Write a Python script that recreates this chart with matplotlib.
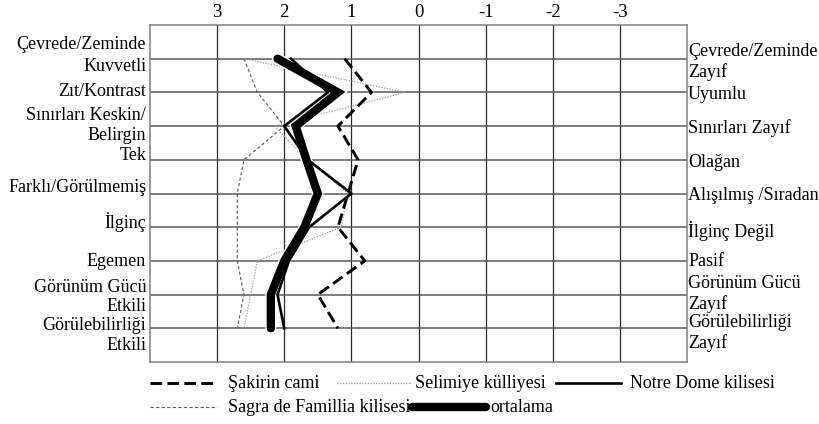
import matplotlib
matplotlib.use("Agg")
import matplotlib.pyplot as plt
from matplotlib.lines import Line2D
import matplotlib.patheffects as pe

plt.rcParams['font.family'] = ['Liberation Serif', 'DejaVu Serif']

# Semantic differential scale (left pole = +3, right pole = -3)
scale_ticks = [3, 2, 1, 0, -1, -2, -3]
items = [1, 2, 3, 4, 5, 6, 7, 8, 9]

# Mean scores per building for each adjective pair
sakirin = [1.1, 0.7, 1.2, 0.9, 1.05, 1.2, 0.8, 1.5, 1.2]
selimiye = [2.6, 0.2, 2.15, 1.65, 1.05, 1.15, 2.4, 2.5, 2.6]
notre_dame = [1.9, 1.35, 2.0, 1.65, 1.0, 1.63, 1.93, 2.1, 2.0]
sagra = [2.6, 2.4, 2.0, 2.6, 2.7, 2.7, 2.7, 2.6, 2.7]
ortalama = [2.1, 1.2, 1.83, 1.67, 1.5, 1.7, 2.0, 2.2, 2.2]

series_names = ["Şakirin cami", "Selimiye külliyesi", "Notre Dome kilisesi",
                "Sagra de Famillia kilisesi", "ortalama"]

# Pole labels (left = positive adjective, right = negative adjective)
left_labels = ["Çevrede/Zeminde", "Kuvvetli", "Zıt/Kontrast", "Sınırları Keskin/",
               "Belirgin", "Tek", "Farklı/Görülmemiş", "İlginç", "Egemen",
               "Görünüm Gücü", "Etkili", "Görülebilirliği", "Etkili"]
left_label_y = [0.59, 1.22, 1.98, 2.70, 3.28, 3.87, 4.83, 5.86, 7.03,
                7.80, 8.36, 8.93, 9.52]
right_labels = ["Çevrede/Zeminde", "Zayıf", "Uyumlu", "Sınırları Zayıf", "Olağan",
                "Alışılmış /Sıradan", "İlginç Değil", "Pasif", "Görünüm Gücü",
                "Zayıf", "Görülebilirliği", "Zayıf"]
right_label_y = [0.79, 1.40, 2.05, 3.05, 4.07, 5.05, 6.12, 7.02, 7.66,
                 8.27, 8.84, 9.43]

W, H = 819, 424
fig = plt.figure(figsize=(W / 100, H / 100), dpi=100)
ax = fig.add_axes([150 / W, 62 / H, 537 / W, 337 / H])

ax.set_xlim(4, -4)
ax.set_ylim(10, 0)

# grid
for x in scale_ticks:
    ax.axvline(x, color='#2a2a2a', lw=0.9, zorder=1)
for y in items:
    ax.axhline(y, color='#5a5a5a', lw=1.1, zorder=1)
for s in ax.spines.values():
    s.set_color('#808080')
    s.set_linewidth(1.1)

ax.set_xticks(scale_ticks)
ax.set_xticklabels([str(t) for t in scale_ticks], fontsize=13.5)
ax.xaxis.tick_top()
ax.tick_params(axis='x', length=0, pad=3)
ax.set_yticks([])

# profiles
style_sakirin = dict(color='black', lw=2.1, linestyle=(0, (4, 1.8)))
style_selimiye = dict(color='#9a9a9a', lw=0.9, linestyle=(0, (1, 1.2)))
style_notre = dict(color='black', lw=1.9, linestyle='-')
style_sagra = dict(color='#5c5c5c', lw=0.8, linestyle=(0, (3, 2)))
style_ort = dict(color='black', lw=6.0, linestyle='-', solid_capstyle='round',
                 solid_joinstyle='miter')

ax.plot(sagra, items, zorder=3, **style_sagra)
ax.plot(selimiye, items, zorder=3, **style_selimiye)
ax.plot(ortalama, items, zorder=4, **style_ort,
        path_effects=[pe.Stroke(linewidth=8, foreground='white'), pe.Normal()])
ax.plot(notre_dame, items, zorder=5, **style_notre)
ax.plot(sakirin, items, zorder=5, **style_sakirin)

# pole labels
ytr = ax.get_yaxis_transform()
for lab, y in zip(left_labels, left_label_y):
    ax.text(-0.007, y, lab, transform=ytr, ha='right', va='center',
            fontsize=13, clip_on=False)
for lab, y in zip(right_labels, right_label_y):
    ax.text(1.002, y, lab, transform=ytr, ha='left', va='center',
            fontsize=13, clip_on=False)

# legend drawn as two rows below the chart
def fx(px):
    return px / W

def fy(py):
    return 1 - py / H

legend_entries = [
    (style_sakirin, 150, 216, 228, 383),
    (style_selimiye, 337, 410, 415, 383),
    (style_notre, 556, 621, 630, 383),
    (style_sagra, 150, 217, 228, 407),
    (style_ort, 412, 486, 490, 407),
]
for (style, x0, x1, tx, py), name in zip(legend_entries, series_names):
    fig.add_artist(Line2D([fx(x0), fx(x1)], [fy(py), fy(py)], **style))
    fig.text(fx(tx), fy(py), name, ha='left', va='center', fontsize=13)

fig.savefig("out.png", dpi=100)
